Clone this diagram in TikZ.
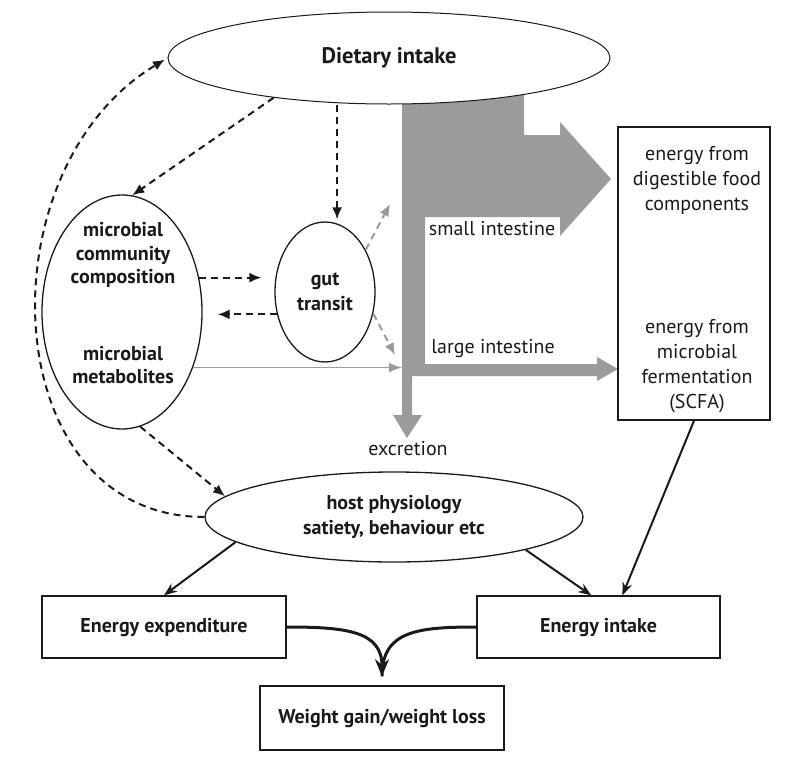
\documentclass[tikz,border=0pt]{standalone}
\usepackage{fontspec}
\setmainfont{PT Sans}
\usetikzlibrary{arrows.meta, positioning, shapes.geometric, calc}
\definecolor{cgrey}{HTML}{9B9B9B}
\definecolor{cink}{HTML}{1A1A1A}
\tikzset{
  every picture/.style={line width=1.2pt},
  oval/.style={ellipse, draw=cink, fill=white, inner sep=0pt, line width=1.3pt},
  box/.style={draw=cink, fill=white, inner sep=0pt, line width=1.4pt},
  lbl/.style={font=\fontsize{20}{24}\selectfont\bfseries, align=center, text=cink},
  txt/.style={font=\fontsize{20}{25}\selectfont, align=center, text=cink},
  dasharrow/.style={-{Latex[length=12pt, width=10pt]}, draw=cink, dash pattern=on 7pt off 5pt, line width=2pt},
  greydash/.style={dasharrow, draw=cgrey},
  greyarrow/.style={-{Latex[length=13pt, width=10pt]}, draw=cgrey, line width=1.6pt},
  arrow/.style={-{Stealth[length=13pt, width=10pt]}, draw=cink, line width=2pt},
  fatarrow/.style={-{Stealth[length=17pt, width=14pt]}, draw=cink, line width=3pt},
}

\begin{document}
\begin{tikzpicture}[x=1pt, y=-1pt]
  \useasboundingbox (0,0) rectangle (793,764);
  % digestion flow through the gut
  \fill[cgrey] (402,90) -- (524,90) -- (524,135) -- (560,135) -- (560,122) -- (611,179)
    -- (560,236) -- (560,217) -- (425,217) -- (425,364) -- (597,364) -- (597,357)
    -- (618,369) -- (597,381) -- (597,376) -- (412,376) -- (412,415) -- (422,415)
    -- (407,438) -- (393,415) -- (402,415) -- cycle;
  \node[txt] (si) at (492,229) {small intestine};
  \node[txt] (li) at (493,349) {large intestine};
  \node[txt] (exc) at (408,449) {excretion};

  \node[oval, line width=1pt, minimum width=442pt, minimum height=92pt,
        lbl, font=\fontsize{22.5}{26}\selectfont\bfseries] (diet) at (389,58) {Dietary intake};
  \node[oval, minimum width=160pt, minimum height=234pt] (micro) at (122,312) {};
  \node[lbl, font=\fontsize{20}{23.5}\selectfont\bfseries] (comp) at (123,255) {microbial\\community\\composition};
  \node[lbl, font=\fontsize{20}{23.5}\selectfont\bfseries] (metab) at (123,365) {microbial\\metabolites};
  \node[oval, lbl, font=\fontsize{20}{25}\selectfont\bfseries, minimum width=100pt, minimum height=140pt] (gut) at (325,292) {gut\\transit};
  \node[oval, lbl, font=\fontsize{20}{25}\selectfont\bfseries, minimum width=378pt, minimum height=90pt] (host) at (394,517)
    {host physiology\\satiety, behaviour etc};

  \node[box, minimum width=152pt, minimum height=293pt] (ebox) at (694,273.5) {};
  \node[txt] (digest) at (697,180) {energy from\\digestible food\\components};
  \node[txt] (ferment) at (697,366) {energy from\\microbial\\fermentation\\(SCFA)};

  \node[box, lbl, minimum width=244pt, minimum height=62pt] (exp) at (164,627) {Energy expenditure};
  \node[box, lbl, minimum width=243pt, minimum height=62pt] (intake) at (598.5,627) {Energy intake};
  \node[box, lbl, minimum width=244pt, minimum height=64pt] (weight) at (382,718) {Weight gain/weight loss};

  % dashed influences
  \draw[dasharrow] (diet.199) -- (micro.85);
  \draw[dasharrow, shorten >=4pt] (diet.south -| gut.80) -- (gut.80);
  \draw[dasharrow, shorten >=13pt] (micro.24) -- (micro.24 -| gut.west);
  \draw[dasharrow, shorten >=15pt] (gut.205) -- (gut.205 -| micro.east);
  \draw[dasharrow] (micro.-81) -- (host.173);
  \draw[dasharrow, shorten >=3pt] (host.west) .. controls (-5,517) and (-19,170) .. (diet.west);

  \coordinate (uptip) at (390,204);
  \coordinate (downtip) at (395,355);
  \coordinate (band) at (402,367);
  \draw[greydash] (gut.46) -- (uptip);
  \draw[greydash] (gut.-24) -- (downtip);
  \draw[greyarrow] (micro.-38) -- (micro.-38 -| band);

  % energy balance
  \draw[arrow] (host.189.5) -- (exp.north);
  \draw[arrow] (host.346) -- (intake.103);
  \draw[arrow] (ebox.south) -- (intake.53);
  \coordinate[above=9pt of weight.north] (merge);
  \draw[fatarrow] (exp.east) .. controls +(60,0) and +(0,-45) .. (merge);
  \draw[draw=cink, line width=3pt] (intake.west) .. controls +(-60,0) and +(0,-45) .. (merge);
\end{tikzpicture}
\end{document}
